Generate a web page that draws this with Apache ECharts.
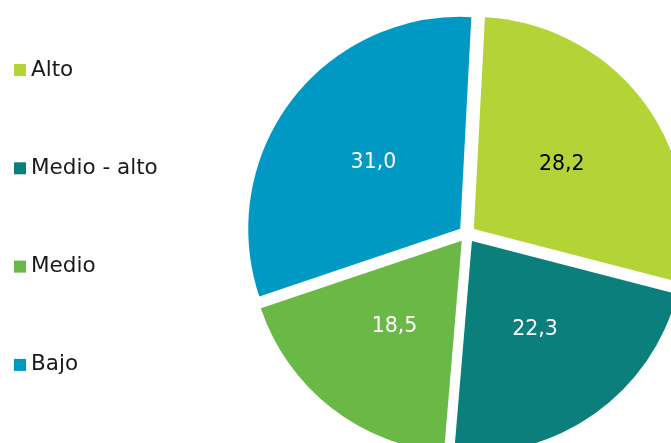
<!DOCTYPE html>
<html>
<head>
<meta charset="utf-8">
<script src="https://cdn.jsdelivr.net/npm/echarts@6/dist/echarts.min.js"></script>
<style>
html,body{margin:0;padding:0;background:#fff;}
#c{width:671px;height:443px;}
</style>
</head>
<body>
<div id="c"></div>
<script>
var categories = ['Alto', 'Medio - alto', 'Medio', 'Bajo'];
var values = [28.2, 22.3, 18.5, 31.0];
var labels = ['28,2', '22,3', '18,5', '31,0'];
var colors = ['#b3d337', '#0a7f7c', '#6ab946', '#0099c4'];
var labelColors = ['#000000', '#ffffff', '#ffffff', '#ffffff'];

var FONT = 'DejaVu Sans';
var chart = echarts.init(document.getElementById('c'), null, {renderer: 'canvas'});

var data = categories.map(function (name, i) {
  return {
    name: name,
    value: values[i],
    selected: true,
    itemStyle: { color: colors[i] },
    label: { color: labelColors[i] },
    select: { itemStyle: { color: colors[i], borderWidth: 0 }, label: { color: labelColors[i] } }
  };
});

chart.setOption({
  animation: false,
  backgroundColor: '#ffffff',
  legend: {
    orient: 'vertical',
    left: 14,
    top: 59,
    padding: 0,
    icon: 'rect',
    itemWidth: 12,
    itemHeight: 12,
    itemGap: 76.3,
    selectedMode: false,
    data: categories,
    textStyle: { fontFamily: FONT, fontSize: 21.5, color: '#1a1a1a', lineHeight: 20, padding: [0, 0, 0, 0] }
  },
  series: [{
    type: 'pie',
    center: [467, 234],
    radius: [0, 212],
    startAngle: 87,
    clockwise: true,
    selectedMode: 'multiple',
    selectedOffset: 8.5,
    avoidLabelOverlap: false,
    emphasis: { disabled: true, scale: false },
    itemStyle: { borderWidth: 0 },
    label: {
      show: true,
      position: 'inside',
      fontFamily: FONT,
      fontSize: 20.5,
      formatter: function (p) { return labels[p.dataIndex]; }
    },
    labelLine: { show: false },
    data: data
  }]
});
</script>
</body>
</html>
